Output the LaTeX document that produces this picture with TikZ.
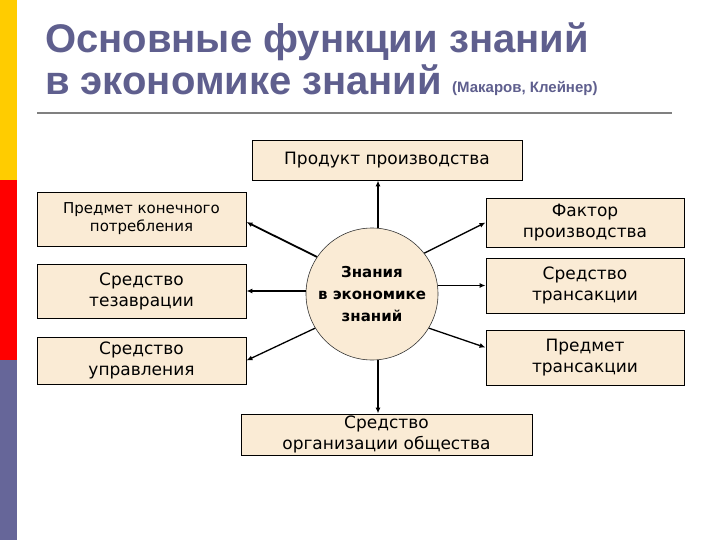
\documentclass[tikz,border=0pt]{standalone}
\usepackage{fontspec}
\setmainfont{DejaVu Sans}
\newfontfamily\titlefont{Liberation Sans}
\usetikzlibrary{arrows.meta,calc}
\definecolor{barY}{HTML}{FFCC00}
\definecolor{barR}{HTML}{FF0000}
\definecolor{barP}{HTML}{666699}
\definecolor{titlec}{HTML}{5F5F8E}
\definecolor{boxfill}{HTML}{FAEBD5}
\definecolor{rulec}{HTML}{808080}
\tikzset{
  fbox/.style={draw=black, line width=0.9pt, fill=boxfill, align=center, inner sep=0pt,
    font=\fontsize{17}{21}\selectfont},
  arr/.style={line width=1.8pt, -{Latex[length=6pt,width=5pt]}},
  arrthin/.style={line width=1.3pt, -{Latex[length=6pt,width=5pt]}},
}
\begin{document}
\begin{tikzpicture}[x=1pt,y=-1pt]
\useasboundingbox (0,0) rectangle (720,540);
\fill[white] (0,0) rectangle (720,540);
% side bars
\fill[barY] (0,0) rectangle (17,180);
\fill[barR] (0,180) rectangle (17,360);
\fill[barP] (0,360) rectangle (17,540);
% title
\node[anchor=base west, inner sep=0pt, text=titlec, font=\titlefont\bfseries\fontsize{40}{44}\selectfont] (t1) at (45,53) {Основные функции знаний};
\node[anchor=base west, inner sep=0pt, text=titlec, font=\titlefont\bfseries\fontsize{40}{44}\selectfont] (t2) at (45,95) {в экономике знаний};
\node[anchor=base west, inner sep=0pt, text=titlec, font=\titlefont\bfseries\fontsize{15}{18}\selectfont] (t3) at (452,93) {(Макаров, Клейнер)};
\draw[rulec, line width=2pt] (37,113) -- (672,113);
% boxes
\node[fbox, minimum width=270, minimum height=40] (prod) at (387,160) {Продукт производства};
\node[fbox, minimum width=209, minimum height=54, font=\fontsize{15}{18}\selectfont] (potr) at (141.5,219) {Предмет конечного\\потребления};
\node[fbox, minimum width=209, minimum height=54] (tez) at (141.5,291) {Средство\\тезаврации};
\node[fbox, minimum width=209, minimum height=47] (upr) at (141.5,360.5) {Средство\\управления};
\node[fbox, minimum width=198, minimum height=49] (fak) at (585,222.5) {Фактор\\производства};
\node[fbox, minimum width=198, minimum height=55] (trans) at (585,285.5) {Средство\\трансакции};
\node[fbox, minimum width=198, minimum height=55] (ptrans) at (585,357.5) {Предмет\\трансакции};
\node[fbox, minimum width=291, minimum height=41] (org) at (386.5,434.5) {Средство\\организации общества};
% center circle
\node[circle, draw=black!80, line width=0.6pt, fill=boxfill, minimum size=132, inner sep=0pt, align=center,
  font=\bfseries\fontsize{15}{22}\selectfont] (c) at (372,294) {Знания\\в экономике\\знаний};
% connectors
\draw[arr] ([xshift=6pt]c.north) -- ([xshift=6pt]c.north |- prod.south);
\draw[arr] ([xshift=6pt]c.south) -- ([xshift=6pt]c.south |- org.north);
\draw[arr] (c.146) -- ([yshift=-3pt]potr.east);
\draw[arr] (c.west |- tez.east) -- (tez.east);
\draw[arrthin] (c.211) -- (upr.east);
\draw[arrthin] (c.38) -- (fak.west);
\draw[arr] (c.east |- trans.west) -- (trans.west);
\draw[arrthin] (c.-31) -- ([yshift=10pt]ptrans.west);
\end{tikzpicture}
\end{document}
